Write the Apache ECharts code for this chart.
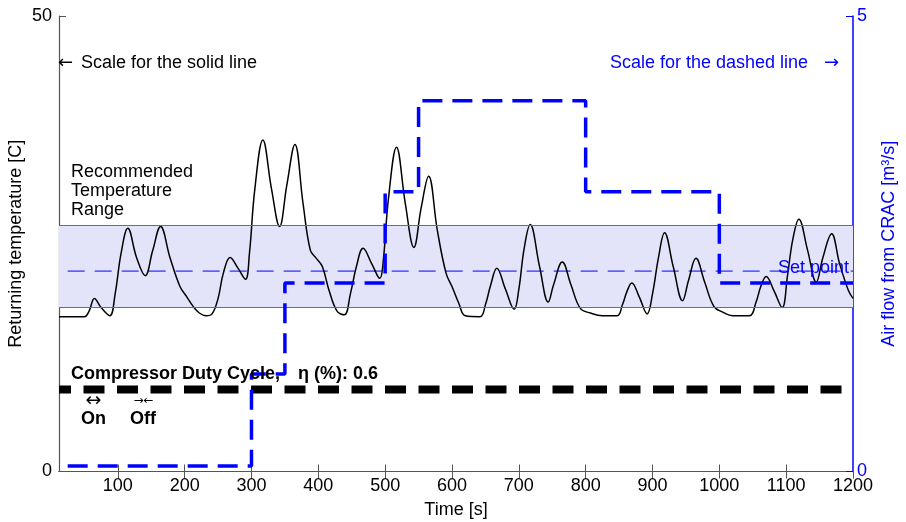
<!DOCTYPE html>
<html>
<head>
<meta charset="utf-8">
<script src="https://cdn.jsdelivr.net/npm/echarts@6/dist/echarts.min.js"></script>
<style>html,body{margin:0;padding:0;background:#fff}#c{width:906px;height:522px}</style>
</head>
<body>
<div id="c"></div>
<script>
// ---- data ----
var xTicks = [100,200,300,400,500,600,700,800,900,1000,1100,1200];
var tempTime = [12,50,57,65,75,88,96,105,115,128,141,152,164,178,193,203,213,222,232,241,250,258,268,280,291,297,305,317,330,342,353,365,377,388,397,406,416,428,439,448,457,467,480,492,497,505,517,530,543,554,565,578,591,600,610,620,642,650,658,667,680,693,700,708,717,731,744,752,765,778,792,807,825,847,855,862,869,880,892,900,909,918,931,945,954,965,978,992,1005,1020,1045,1055,1062,1070,1082,1094,1102,1110,1119,1132,1145,1155,1168,1180,1193,1200];
var tempValue = [17.0,17.0,17.6,19.0,18.0,17.1,19.5,24.0,26.7,23.5,21.5,24.2,26.9,23.5,20.3,19.2,18.1,17.4,17.1,17.3,19.0,21.8,23.5,22.3,21.1,24.0,31.0,36.4,31.0,26.9,31.5,35.9,29.5,24.3,23.4,22.5,19.9,17.6,17.2,19.5,22.5,24.5,22.8,21.2,23.0,30.0,35.6,29.5,24.6,29.0,32.4,26.5,21.8,20.3,18.5,17.1,17.0,18.3,20.5,22.3,20.0,17.8,20.0,24.5,27.1,22.5,18.6,20.5,23.0,20.5,17.9,17.4,17.1,17.1,18.3,19.8,20.7,19.2,17.3,19.5,23.5,26.2,22.5,18.75,21.0,23.4,20.8,18.1,17.5,17.1,17.1,18.6,20.3,21.4,19.8,18.0,21.5,25.5,27.7,24.3,20.8,23.5,26.1,22.8,19.9,19.0];
var flowTime = [25,300,350,500,550,800,1000,1200];
var flowValue = [0.06,1.07,2.07,3.07,4.07,3.07,2.07,2.07];
var rangeLow = 18, rangeHigh = 27;
var setPoint = 22;
var setPointSpan = [25,1200];
var dutyLevel = 9;
var dutySpan = [12,1200];
var xMin = 12, xMax = 1200;

function pairs(a,b){var r=[];for(var i=0;i<a.length;i++)r.push([a[i],b[i]]);return r;}
function plain(v){return String(v);}

var FF = "'Liberation Sans', Arial, Helvetica, sans-serif";
var AF = "'DejaVu Sans', sans-serif";
var chart = echarts.init(document.getElementById('c'));
var axisCol = '#555';
chart.setOption({
  animation:false,
  textStyle:{fontFamily:FF},
  grid:{left:59,right:53,top:16,bottom:50.5,containLabel:false,outerBoundsMode:'none'},
  xAxis:[{
    type:'value',min:xMin,max:xMax,position:'bottom',
    name:'Time [s]',nameLocation:'middle',nameGap:30,
    nameTextStyle:{fontSize:18,color:'#000',fontFamily:FF},
    axisLine:{show:true,lineStyle:{color:axisCol,width:1.2}},
    axisTick:{show:true,inside:true,length:7,customValues:xTicks,lineStyle:{color:axisCol}},
    axisLabel:{customValues:xTicks,formatter:plain,fontSize:18,color:'#000',margin:6,fontFamily:FF},
    splitLine:{show:false}
  },{
    type:'value',min:xMin,max:xMax,position:'top',
    axisLine:{show:true,lineStyle:{color:axisCol,width:1.2}},
    axisTick:{show:true,inside:true,length:7,customValues:xTicks,lineStyle:{color:axisCol}},
    axisLabel:{show:false},splitLine:{show:false}
  }],
  yAxis:[{
    type:'value',min:0,max:50,interval:50,position:'left',
    name:'Returning temperature [C]',nameLocation:'middle',nameGap:34,nameMoveOverlap:false,
    nameTextStyle:{fontSize:18,color:'#000',fontFamily:FF},
    axisLine:{show:true,lineStyle:{color:axisCol,width:1.2}},
    axisTick:{show:true,inside:true,length:7,lineStyle:{color:axisCol}},
    axisLabel:{fontSize:18,color:'#000',margin:7,fontFamily:FF,formatter:plain},
    splitLine:{show:false}
  },{
    type:'value',min:0,max:5,interval:5,position:'right',
    name:'Air flow from CRAC [m³/s]',nameLocation:'middle',nameGap:27,nameRotate:90,
    nameTextStyle:{fontSize:18,color:'#0000ff',fontFamily:FF},
    axisLine:{show:true,lineStyle:{color:'#0000ff',width:1.5}},
    axisTick:{show:true,inside:true,length:7,lineStyle:{color:'#0000ff'}},
    axisLabel:{fontSize:18,color:'#0000ff',margin:4,fontFamily:FF,formatter:plain},
    splitLine:{show:false}
  }],
  series:[{
    name:'band',type:'line',data:[],silent:true,z:1,
    markArea:{silent:true,itemStyle:{color:'#E3E3FA'},data:[[{yAxis:rangeLow},{yAxis:rangeHigh}]]},
    markLine:{silent:true,symbol:['none','none'],label:{show:false},
      lineStyle:{color:'#6e6e6e',width:1.2,type:'solid'},
      data:[{yAxis:rangeLow},{yAxis:rangeHigh}]}
  },{
    name:'setpoint',type:'line',showSymbol:false,z:2,
    data:[[setPointSpan[0],setPoint],[setPointSpan[1],setPoint]],
    lineStyle:{color:'#0000ff',width:1,type:[17,10]}
  },{
    name:'temperature',type:'line',showSymbol:false,smooth:0.4,z:3,
    data:pairs(tempTime,tempValue),
    lineStyle:{color:'#000',width:1.5}
  },{
    name:'duty',type:'line',showSymbol:false,z:4,
    data:[[dutySpan[0],dutyLevel],[dutySpan[1],dutyLevel]],
    lineStyle:{color:'#000',width:8,type:[21,12.5],dashOffset:9,cap:'butt'}
  },{
    name:'airflow',type:'line',yAxisIndex:1,step:'end',showSymbol:false,z:5,
    data:pairs(flowTime,flowValue),
    lineStyle:{color:'#0000ff',width:3.5,type:[20,10]}
  }],
  graphic:[
    {type:'text',z:100,style:{text:'←',x:58,y:63,font:'18px '+AF,fill:'#000',verticalAlign:'middle'}},
    {type:'text',z:100,style:{text:'Scale for the solid line',x:81,y:63,font:'18px '+FF,fill:'#000',verticalAlign:'middle'}},
    {type:'text',z:100,style:{text:'Scale for the dashed line',x:610,y:63,font:'18px '+FF,fill:'#0000ff',verticalAlign:'middle'}},
    {type:'text',z:100,style:{text:'→',x:824,y:63,font:'18px '+AF,fill:'#0000ff',verticalAlign:'middle'}},
    {type:'text',z:100,style:{text:'Recommended\nTemperature\nRange',x:71,y:163,font:'18px '+FF,fill:'#000',lineHeight:19}},
    {type:'text',z:100,style:{text:'Set point',x:778,y:268,font:'18px '+FF,fill:'#0000ff',verticalAlign:'middle'}},
    {type:'text',z:100,style:{text:'Compressor Duty Cycle,',x:71,y:374,font:'bold 18px '+FF,fill:'#000',verticalAlign:'middle'}},
    {type:'text',z:100,style:{text:'η (%): 0.6',x:298,y:374,font:'bold 18px '+FF,fill:'#000',verticalAlign:'middle'}},
    {type:'text',z:100,style:{text:'↔',x:93.5,y:401,font:'19px '+AF,fill:'#000',align:'center',verticalAlign:'middle'}},
    {type:'text',z:100,style:{text:'→←',x:143.5,y:401,font:'12px '+AF,fill:'#000',align:'center',verticalAlign:'middle'}},
    {type:'text',z:100,style:{text:'On',x:93.5,y:419,font:'bold 18px '+FF,fill:'#000',align:'center',verticalAlign:'middle'}},
    {type:'text',z:100,style:{text:'Off',x:143,y:419,font:'bold 18px '+FF,fill:'#000',align:'center',verticalAlign:'middle'}}
  ]
});
</script>
</body>
</html>
